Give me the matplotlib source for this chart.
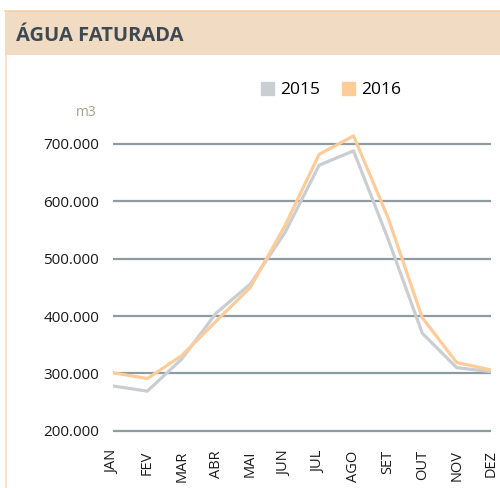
import numpy as np
import matplotlib.pyplot as plt
from matplotlib.patches import Rectangle
from matplotlib.lines import Line2D

plt.rcParams["font.family"] = ["Open Sans", "DejaVu Sans"]

meses = ["JAN", "FEV", "MAR", "ABR", "MAI", "JUN",
         "JUL", "AGO", "SET", "OUT", "NOV", "DEZ"]
agua_2015 = [278000, 269000, 325000, 405000, 456000, 545000,
             663000, 688000, 535000, 370000, 310000, 303000]
agua_2016 = [301000, 291000, 331000, 391000, 450000, 557000,
             682000, 714000, 572000, 397000, 319000, 306000]
y_ticks = [200000, 300000, 400000, 500000, 600000, 700000]

cor_2015 = "#c9ced3"
cor_2016 = "#fdcc98"
cor_grelha = "#8e9ba1"

fig = plt.figure(figsize=(5, 4.88), dpi=100)

# header band and panel border
fig.patches.append(Rectangle((5 / 500, 1 - 55 / 488), 495 / 500, 44 / 488,
                             transform=fig.transFigure, facecolor="#f2dbc3",
                             edgecolor="none", zorder=0))
fig.add_artist(Line2D([5 / 500, 1], [1 - 11 / 488, 1 - 11 / 488],
                      transform=fig.transFigure, color="#f6cfa4", lw=1.2))
fig.add_artist(Line2D([5.5 / 500, 5.5 / 500], [0, 1 - 11 / 488],
                      transform=fig.transFigure, color="#f6dcc0", lw=1.2))
fig.text(16 / 500, 1 - 36 / 488, "ÁGUA FATURADA", fontsize=14.5, fontweight="bold",
         color="#3e4a53", va="center", ha="left")

ax = fig.add_axes([113 / 500, 0.1115, 378 / 500, 0.617])
x = np.arange(len(meses))
ax.plot(x, agua_2015, color=cor_2015, lw=2.3, label="2015", zorder=3)
ax.plot(x, agua_2016, color=cor_2016, lw=2.3, label="2016", zorder=4)

ax.set_xlim(0, len(meses) - 1)
ax.set_ylim(195000, 720000)
ax.set_yticks(y_ticks)
ax.set_yticklabels([f"{v:,}".replace(",", ".") for v in y_ticks])
ax.set_xticks(x)
ax.set_xticklabels(meses, rotation=90)
for s in ax.spines.values():
    s.set_visible(False)
ax.tick_params(axis="y", length=0, pad=10, labelsize=11, labelcolor="#1a1a1a")
ax.tick_params(axis="x", length=0, pad=12, labelsize=10.5, labelcolor="#1a1a1a")
ax.grid(axis="y", color=cor_grelha, lw=1.6, zorder=1)
ax.set_axisbelow(True)

fig.text(86 / 500, 1 - 112 / 488, "m3", fontsize=10, color="#a3a383",
         ha="center", va="center")

leg = ax.legend(handles=[
    Rectangle((0, 0), 1, 1, color=cor_2015),
    Rectangle((0, 0), 1, 1, color=cor_2016)], labels=["2015", "2016"],
    ncol=2, frameon=False, fontsize=12.5, loc="center",
    bbox_to_anchor=(331 / 500, 1 - 90 / 488), bbox_transform=fig.transFigure,
    handlelength=0.75, handleheight=0.75, handletextpad=0.35, columnspacing=1.3)

fig.savefig("out.png", dpi=100)
